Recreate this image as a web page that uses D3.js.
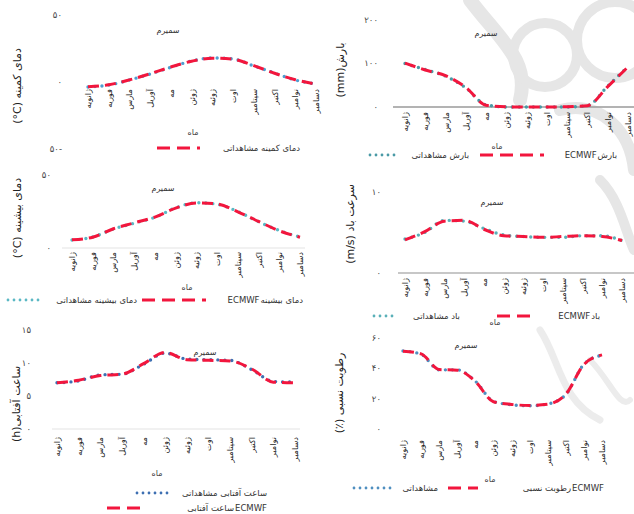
<!DOCTYPE html>
<html><head><meta charset="utf-8">
<script src="https://cdn.jsdelivr.net/npm/d3@7"></script>
<style>
html,body{margin:0;padding:0;background:#fff;}
svg{display:block;font-family:"DejaVu Sans",sans-serif;}
</style></head>
<body>
<svg id="c" width="634" height="514"></svg>
<script>
// ---------- data ----------
const months = ["ژانویه","فوریه","مارس","آوریل","مه","ژوئن","ژوئیه","اوت","سپتامبر","اکتبر","نوامبر","دسامبر"];
const station = "سمیرم";
const xTitle = "ماه";

const minTempObs   = [-3.7,-2.3,1.5,6.0,11.0,15.7,18.0,17.2,12.0,6.7,1.5,-1.5];
const minTempEcmwf = [-3.5,-2.1,1.6,6.2,11.2,15.5,17.8,17.0,12.2,6.5,1.7,-1.6];
const minTempTicks = [-50,0,50];

const precipObs   = [100,86,71,44,5,0,0,0,0,3,48,93];
const precipEcmwf = [101,85,72,45,4,0.5,0,0,0.5,3,47,92];
const precipTicks = [0,100,200];

const maxTempObs   = [5.5,7.5,13.0,17.0,21.0,27.5,31.0,30.0,25.0,18.0,12.0,7.5];
const maxTempEcmwf = [5.6,7.4,13.2,17.2,21.2,27.3,30.8,30.2,24.8,18.2,11.8,7.4];
const maxTempTicks = [0,50];

const windObs   = [4.2,5.0,6.5,6.4,5.5,4.7,4.5,4.4,4.4,4.6,4.6,4.0];
const windEcmwf = [4.1,5.1,6.4,6.5,5.4,4.6,4.5,4.4,4.5,4.6,4.5,4.0];
const windTicks = [0,10];

const sunObs   = [7.0,7.3,8.2,8.3,9.8,11.5,10.6,10.5,10.4,9.0,7.2,7.1];
const sunEcmwf = [7.0,7.4,8.1,8.3,9.9,11.6,10.5,10.4,10.3,9.1,7.1,7.0];
const sunTicks = [0,5,10,15];

const rhObs   = [51.5,49.3,39.0,39.0,31.5,18.2,16.0,15.3,16.5,22.7,42.7,48.7];
const rhEcmwf = [51.3,49.5,39.2,38.8,31.3,18.0,16.2,15.5,16.3,23.0,42.5,48.9];
const rhTicks = [0,20,40,60];

// ---------- helpers ----------
const faDigits = ["۰","۱","۲","۳","۴","۵","۶","۷","۸","۹"];
const fa = n => (n < 0 ? "-" : "") + String(Math.abs(n)).split("").map(d => faDigits[+d]).join("");
const RLE = "\u202B", PDF = "\u202C";
const rtl = s => RLE + s + PDF;

const svg = d3.select("#c");
const RED = "#f2163d";

// faint watermark (university logo / calligraphy) behind the charts
const wm = svg.append("g").attr("fill","none").attr("stroke","#e6e6e6").attr("stroke-linecap","round");
wm.append("path").attr("d","M470,0 C500,40 530,60 520,100").attr("stroke-width",14);
wm.append("circle").attr("cx",545).attr("cy",55).attr("r",32).attr("stroke-width",10);
wm.append("circle").attr("cx",615).attr("cy",40).attr("r",38).attr("stroke-width",10);
wm.append("path").attr("d","M560,110 C600,100 630,130 634,170").attr("stroke-width",12);
wm.append("path").attr("d","M600,180 C620,200 625,230 634,250").attr("stroke-width",10);
wm.append("path").attr("d","M540,330 C560,360 560,400 600,420").attr("stroke-width",7).attr("stroke","#ececec");
wm.append("path").attr("d","M590,360 C610,380 620,410 630,400").attr("stroke-width",6).attr("stroke","#ececec");

function legendText(g, x, y, label, latin, latinRight) {
  // label: Persian part; latin: optional "ECMWF" part placed left or right of it
  const mk = (tx, t) => g.append("text").attr("x",tx).attr("y",y).attr("dy","0.35em")
      .attr("text-anchor","end").attr("font-size",8.5).attr("fill","#333").text(t);
  if (!latin) { mk(x, label); return; }
  if (latinRight) {
    const l = mk(x, latin);
    const w = l.node().getComputedTextLength();
    mk(x - w - 1, label);
  } else {
    const p = mk(x, label);
    const w = p.node().getComputedTextLength();
    mk(x - w - 1, latin);
  }
}

function chart(cfg) {
  const g = svg.append("g");
  const x = d3.scalePoint(months, [cfg.x0, cfg.x1]);
  const y = d3.scaleLinear(cfg.domain, [cfg.yBottom, cfg.yTop]);

  if (cfg.axisLine) {
    g.append("line").attr("x1",cfg.axisLine[0]).attr("x2",cfg.axisLine[1])
      .attr("y1",y(0)).attr("y2",y(0)).attr("stroke",cfg.axisColor||"#9a9a9a").attr("stroke-width",1.5);
  }
  // y tick labels
  g.selectAll(".yt").data(cfg.ticks).join("text")
    .attr("x", cfg.tickX).attr("y", d => y(d)).attr("dy","0.35em")
    .attr("text-anchor","end").attr("font-size",8.5).attr("fill","#444").text(d => rtl(fa(d)));
  // y axis title
  g.append("text").attr("transform",`translate(${cfg.yTitleX},${cfg.yTitleY}) rotate(-90)`)
    .attr("text-anchor","middle").attr("font-size",11).attr("fill","#222").text(rtl(cfg.yTitle));
  // station title
  g.append("text").attr("x",cfg.titleX).attr("y",cfg.titleY).attr("dy","0.35em")
    .attr("text-anchor","middle").attr("font-size",8).attr("fill","#333").text(station);
  // month labels
  g.selectAll(".mx").data(months).join("text")
    .attr("transform", d => `translate(${x(d)+3},${cfg.labelTop}) rotate(-90)`)
    .attr("text-anchor","end").attr("font-size",8.2).attr("fill","#222").text(d => d);
  // x title
  g.append("text").attr("x",cfg.xTitleX).attr("y",cfg.xTitleY).attr("dy","0.35em")
    .attr("text-anchor","middle").attr("font-size",8).attr("fill","#444").text(xTitle);

  const line = d3.line().x((d,i) => x(months[i])).y(d => y(d)).curve(d3.curveMonotoneX);
  g.append("path").attr("d", line(cfg.obs)).attr("fill","none")
    .attr("stroke",cfg.obsColor).attr("stroke-width",3.4).attr("stroke-linecap","round")
    .attr("stroke-dasharray","0,7");
  g.append("path").attr("d", line(cfg.ec)).attr("fill","none")
    .attr("stroke",RED).attr("stroke-width",3).attr("stroke-dasharray","11,6");

  // legend
  cfg.legend.forEach(it => {
    if (it.type === "text") {
      legendText(g, it.x, it.y, it.label, it.latin, it.latinRight);
    } else if (it.type === "dash") {
      g.append("line").attr("x1",it.x1).attr("x2",it.x2).attr("y1",it.y).attr("y2",it.y)
        .attr("stroke",RED).attr("stroke-width",3).attr("stroke-dasharray","13,7");
    } else {
      g.append("line").attr("x1",it.x1).attr("x2",it.x2).attr("y1",it.y).attr("y2",it.y)
        .attr("stroke",cfg.obsColor).attr("stroke-width",2.8).attr("stroke-linecap","round")
        .attr("stroke-dasharray","0,6");
    }
  });
}

// 1: minimum temperature
chart({x0:88,x1:316,domain:[-50,50],yBottom:149,yTop:15,ticks:minTempTicks,tickX:62,
  yTitle:"دمای کمینه (C°)",yTitleX:21,yTitleY:86,titleX:168,titleY:30,labelTop:89,
  xTitleX:193,xTitleY:132,obs:minTempObs,ec:minTempEcmwf,obsColor:"#4f9ed0",
  legend:[{type:"dash",x1:157,x2:200,y:148},{type:"text",x:300,y:148,label:"دمای کمینه مشاهداتی"}]});

// 2: precipitation
chart({x0:405,x1:628,domain:[0,200],yBottom:107,yTop:20,ticks:precipTicks,tickX:378,
  yTitle:"بارش(mm)",yTitleX:344,yTitleY:70,titleX:486,titleY:33,labelTop:112,
  xTitleX:497,xTitleY:146,axisLine:[393,634],obs:precipObs,ec:precipEcmwf,obsColor:"#4a9aa6",
  legend:[{type:"dot",x1:370,x2:398,y:155},{type:"text",x:469,y:155,label:"بارش مشاهداتی"},
          {type:"dash",x1:480,x2:544,y:155},{type:"text",x:617,y:155,label:"بارش",latin:"ECMWF"}]});

// 3: maximum temperature
chart({x0:72,x1:300,domain:[0,50],yBottom:248,yTop:175,ticks:maxTempTicks,tickX:51,
  yTitle:"دمای بیشینه (C°)",yTitleX:21,yTitleY:218,titleX:163,titleY:188,labelTop:252,
  xTitleX:187,xTitleY:287,axisLine:[62,305],axisColor:"#ececec",obs:maxTempObs,ec:maxTempEcmwf,obsColor:"#5bb8c4",
  legend:[{type:"dot",x1:8,x2:40,y:300},{type:"text",x:137,y:300,label:"دمای بیشینه مشاهداتی"},
          {type:"dash",x1:142,x2:206,y:300},{type:"text",x:303,y:300,label:"دمای بیشینه",latin:"ECMWF"}]});

// 4: wind speed
chart({x0:405,x1:622,domain:[0,10],yBottom:273,yTop:192,ticks:windTicks,tickX:381,
  yTitle:"سرعت باد (m/s)",yTitleX:354,yTitleY:224,titleX:492,titleY:202,labelTop:278,
  xTitleX:495,xTitleY:322,axisLine:[398,634],axisColor:"#b5b5b5",obs:windObs,ec:windEcmwf,obsColor:"#5ab0b8",
  legend:[{type:"dot",x1:374,x2:398,y:316},{type:"text",x:460,y:316,label:"باد مشاهداتی"},
          {type:"dash",x1:497,x2:537,y:316},{type:"text",x:600,y:316,label:"باد",latin:"ECMWF"}]});

// 5: sunshine hours
chart({x0:57,x1:295,domain:[0,15],yBottom:429,yTop:330,ticks:sunTicks,tickX:31,
  yTitle:"ساعت آفتابی(h)",yTitleX:20,yTitleY:404,titleX:205,titleY:352,labelTop:437,
  xTitleX:157,xTitleY:473,axisLine:[52,300],axisColor:"#ececec",obs:sunObs,ec:sunEcmwf,obsColor:"#3d6fb2",
  legend:[{type:"dot",x1:137,x2:170,y:493},{type:"text",x:267,y:493,label:"ساعت آفتابی مشاهداتی"},
          {type:"dash",x1:107,x2:147,y:508},{type:"text",x:267,y:508,label:"ساعت آفتابی",latin:"ECMWF",latinRight:true}]});

// 6: relative humidity
chart({x0:403,x1:602,domain:[0,60],yBottom:429,yTop:338,ticks:rhTicks,tickX:381,
  yTitle:"رطوبت نسبی (٪)",yTitleX:343,yTitleY:393,titleX:466,titleY:345,labelTop:440,
  xTitleX:490,xTitleY:479,obs:rhObs,ec:rhEcmwf,obsColor:"#4f8fc0",
  legend:[{type:"dot",x1:354,x2:394,y:488},{type:"text",x:438,y:488,label:"مشاهداتی"},
          {type:"dash",x1:448,x2:478,y:488},{type:"text",x:604,y:488,label:"رطوبت نسبی",latin:"ECMWF",latinRight:true}]});
</script>
</body></html>
